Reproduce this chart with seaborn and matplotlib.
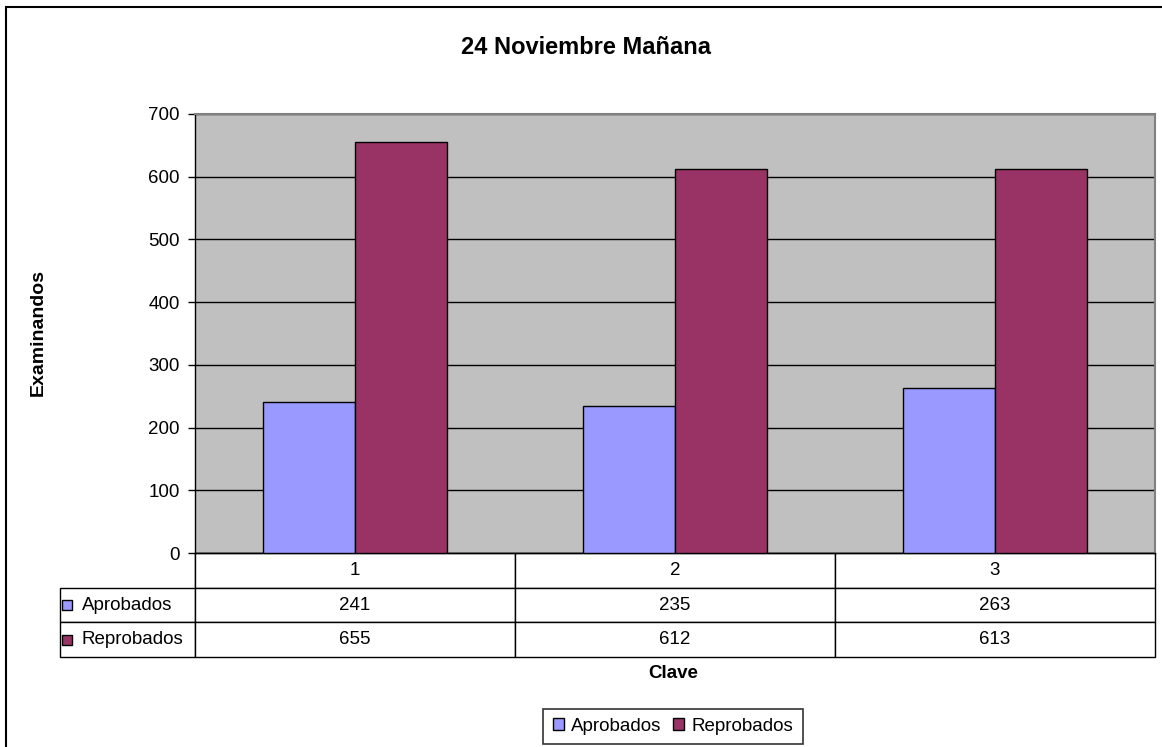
import pandas as pd
import matplotlib.pyplot as plt
import seaborn as sns
from matplotlib.patches import Patch, Rectangle

# data
claves = ["1", "2", "3"]
series = ["Aprobados", "Reprobados"]
aprobados = [241, 235, 263]
reprobados = [655, 612, 613]
colors = ["#9999FF", "#993366"]

df = pd.DataFrame({
    "Clave": claves * 2,
    "Serie": [series[0]] * 3 + [series[1]] * 3,
    "Examinandos": aprobados + reprobados,
})

plt.rcParams["font.family"] = ["Liberation Sans", "DejaVu Sans"]

fig = plt.figure(figsize=(11.62, 7.47), dpi=100)
ax = fig.add_axes([195 / 1162, 1 - 553 / 747, 960 / 1162, 439 / 747])
ax.set_facecolor("#C0C0C0")

sns.barplot(data=df, x="Clave", y="Examinandos", hue="Serie", palette=colors,
            width=0.575, gap=0, edgecolor="black", linewidth=1, saturation=1,
            legend=False, ax=ax, zorder=3)

ax.set_ylim(0, 700)
ax.set_yticks(range(0, 701, 100))
ax.yaxis.grid(True, color="black", linewidth=1, zorder=1)
ax.set_axisbelow(True)
ax.tick_params(axis="y", labelsize=13.5, length=5, width=1, direction="out", pad=6)
ax.tick_params(axis="x", bottom=False, labelbottom=False)
ax.set_xlabel("")
ax.set_ylabel("")
for s in ["top", "right"]:
    ax.spines[s].set_color("#808080")
    ax.spines[s].set_linewidth(1.5)
for s in ["left", "bottom"]:
    ax.spines[s].set_color("black")
    ax.spines[s].set_linewidth(1)

# data table under the axis (first column holds the series names)
lab_w = 135 / 960
rows = [[""] + claves,
        [series[0]] + [str(v) for v in aprobados],
        [series[1]] + [str(v) for v in reprobados]]
tbl = ax.table(cellText=rows, colWidths=[lab_w] + [1 / 3] * 3, cellLoc="center",
               bbox=[-lab_w, -104 / 439, 1 + lab_w, 104 / 439])
tbl.auto_set_font_size(False)
tbl.set_fontsize(13.5)
for (r, c), cell in tbl.get_celld().items():
    cell.set_linewidth(1)
    cell.set_edgecolor("black")
    if c == 0:
        cell.get_text().set_horizontalalignment("left")
        cell.PAD = 0.16
        cell._loc = "left"
        if r == 0:
            cell.visible_edges = "R"

# colour keys in the row labels
for i, col in enumerate(colors):
    ax.plot([-128 / 960], [(-52 - 35 * i) / 439], marker="s", markersize=7,
            markerfacecolor=col, markeredgecolor="black", markeredgewidth=1,
            transform=ax.transAxes, clip_on=False, linestyle="none")

ax.set_xlim(-0.5, 2.5)

fig.text(586 / 1162, 1 - 47 / 747, "24 Noviembre Mañana", ha="center", va="center",
         fontsize=17, fontweight="bold")
fig.text(38 / 1162, 1 - 333 / 747, "Examinandos", ha="center", va="center",
         rotation=90, fontsize=14, fontweight="bold")
fig.text(673 / 1162, 1 - 674 / 747, "Clave", ha="center", va="center",
         fontsize=13.5, fontweight="bold")

handles = [Patch(facecolor=c, edgecolor="black", linewidth=1) for c in colors]
leg = fig.legend(handles, series, loc="center", bbox_to_anchor=(673 / 1162, 1 - 726.5 / 747),
                 ncol=2, frameon=True, fancybox=False, edgecolor="black", fontsize=13.5,
                 handlelength=0.6, handleheight=0.6, handletextpad=0.4,
                 columnspacing=0.6, borderpad=0.5, borderaxespad=0)
leg.get_frame().set_linewidth(1.2)

# outer chart border
fig.patches.append(Rectangle((6 / 1162, -0.05), 1.1, 1 - 7 / 747 + 0.05,
                             transform=fig.transFigure, fill=False,
                             edgecolor="black", linewidth=1.5))

fig.savefig("out.png", dpi=100)
